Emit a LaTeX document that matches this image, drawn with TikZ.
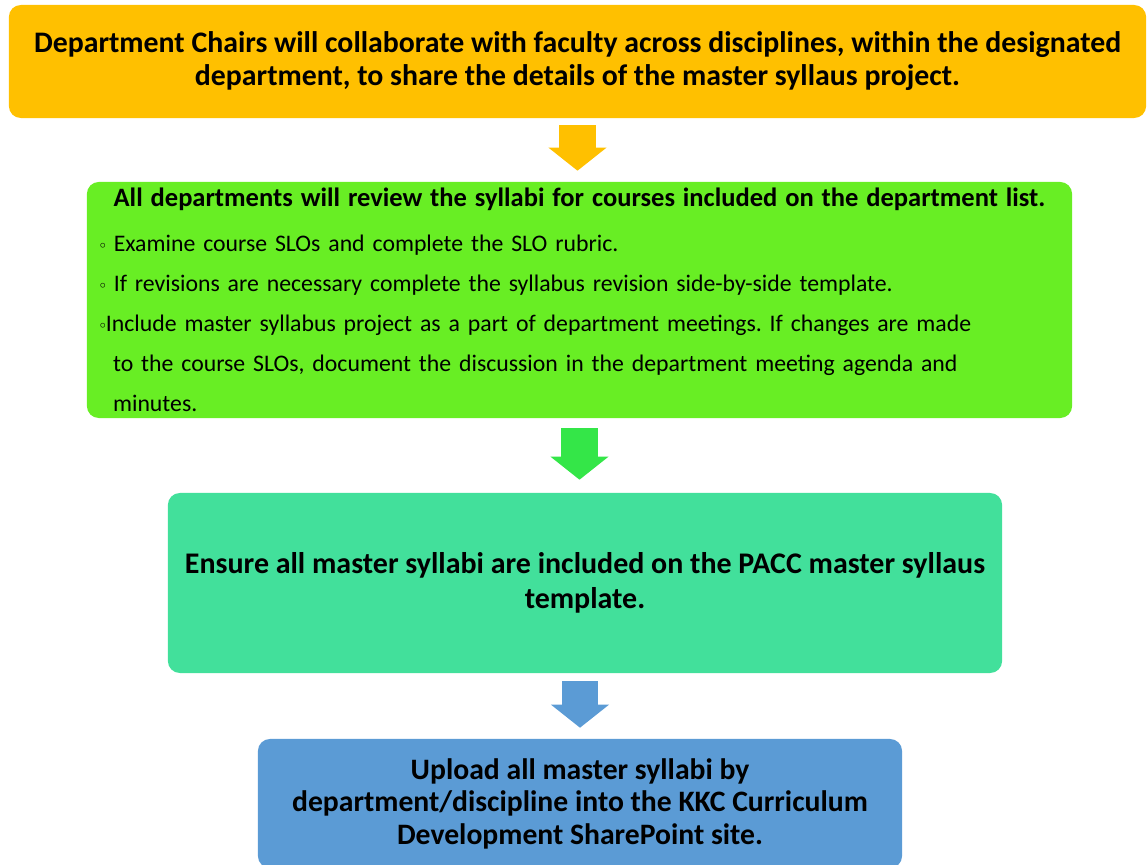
\documentclass[tikz,border=0pt]{standalone}
\usepackage{fontspec}
\setmainfont{Carlito}
\usetikzlibrary{positioning,arrows.meta}

\definecolor{chairorange}{RGB}{255,192,0}
\definecolor{reviewgreen}{RGB}{104,238,36}
\definecolor{arrowgreen}{RGB}{52,230,72}
\definecolor{checkteal}{RGB}{66,224,155}
\definecolor{uploadblue}{RGB}{91,155,213}

\newcommand{\wb}{\raisebox{0.12em}{\footnotesize$\circ$}}
\frenchspacing

\begin{document}
\begin{tikzpicture}[
    x=0.025cm, y=-0.025cm,
    stage/.style={rectangle, rounded corners=0.3cm, inner sep=0pt, align=center},
    flow/.style={line width=0.9cm, -{Triangle[width=1.45cm, length=0.575cm, line width=0pt]}}
  ]

    \useasboundingbox (0,0) rectangle (1147,865);

    \node[stage, fill=chairorange, minimum width=28.425cm, minimum height=2.825cm,
      font=\fontsize{21.2}{23.4}\selectfont\bfseries] (chairs) at (577.5,61.5) {
      Department Chairs will collaborate with faculty across disciplines, within the designated\\
      department, to share the details of the master syllaus project.
    };

    \node[stage, fill=reviewgreen, minimum width=24.625cm, minimum height=5.9cm,
      inner xsep=0.325cm, text width=23.975cm, align=left,
      font=\fontsize{16.9}{28.45}\selectfont] (review) at (579.5,300) {
      \makebox[\hsize][c]{\fontsize{18.85}{28.45}\selectfont\bfseries All departments will review the syllabi for courses included on the department list.}\\[0.125cm]
      \wb\ Examine course SLOs and complete the SLO rubric.\\
      \wb\ If revisions are necessary complete the syllabus revision side-by-side template.\\
      \wb{}Include master syllabus project as a part of department meetings. If changes are made\\
      \hspace*{0.33cm}to the course SLOs, document the discussion in the department meeting agenda and\\
      \hspace*{0.33cm}minutes.
    };

    \node[stage, fill=checkteal, minimum width=20.85cm, minimum height=4.5cm,
      font=\fontsize{21.3}{24.9}\selectfont\bfseries] (check) at (585,583) {
      Ensure all master syllabi are included on the PACC master syllaus\\
      template.
    };

    \node[stage, fill=uploadblue, minimum width=16.1cm, minimum height=3.225cm,
      font=\fontsize{21.1}{23.1}\selectfont\bfseries] (upload) at (580,803.5) {
      Upload all master syllabi by\\
      department/discipline into the KKC Curriculum\\
      Development SharePoint site.
    };

    \draw[flow, chairorange, shorten <=0.175cm, shorten >=0.275cm] (chairs.south) -- (chairs.south |- review.north);
    \draw[flow, arrowgreen, shorten <=0.25cm, shorten >=0.325cm] (review.south) -- (review.south |- check.north);
    \draw[flow, uploadblue, shorten <=0.2cm, shorten >=0.275cm] (upload.north |- check.south) -- (upload.north);
  \end{tikzpicture}
\end{document}
